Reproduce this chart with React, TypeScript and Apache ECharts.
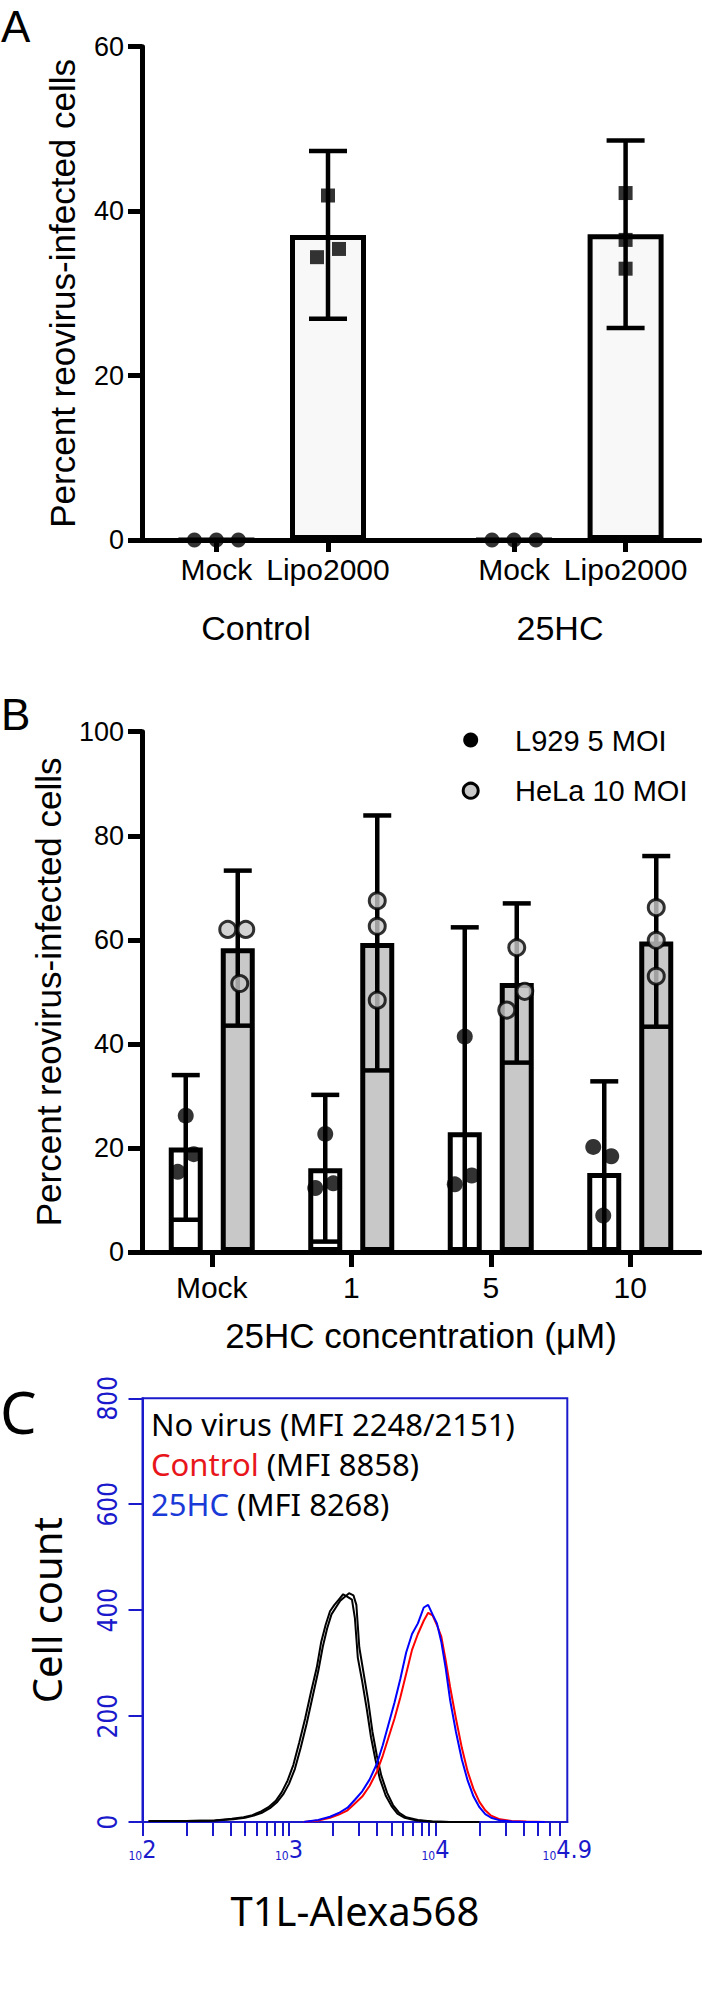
import React, { useEffect, useRef } from 'react';
import * as echarts from 'echarts';

// ---------------- Panel A data ----------------
const aCategories = ['Mock', 'Lipo2000', 'Mock', 'Lipo2000'];
const aSlots = [2, 5, 10, 13];
const aGroupLabels = ['Control', '25HC'];
const aMeans = [0, 37.1, 0, 37.2];
const aErrors = [0, 10.2, 0, 11.4];
const aPoints = [
  [0, 0, 0],
  [41.9, 34.4, 35.4],
  [0, 0, 0],
  [42.2, 36.5, 33.0],
];
const aYTicks = [0, 20, 40, 60];

// ---------------- Panel B data ----------------
const bCategories = ['Mock', '1', '5', '10'];
const bSeriesNames = ['L929 5 MOI', 'HeLa 10 MOI'];
const bL929Means = [20.1, 16.1, 23.0, 15.2];
const bL929Errors = [13.9, 14.1, 39.4, 17.6];
const bHelaMeans = [58.4, 59.4, 51.7, 59.7];
const bHelaErrors = [14.9, 24.5, 15.3, 16.4];
const bL929Points = [
  [26.2, 18.8, 15.4],
  [22.7, 12.3, 13.2],
  [41.4, 13.0, 14.7],
  [20.2, 18.4, 7.0],
];
const bHelaPoints = [
  [62.0, 62.0, 51.6],
  [67.5, 62.6, 48.4],
  [58.5, 46.5, 50.1],
  [66.2, 59.9, 53.0],
];
const bYTicks = [0, 20, 40, 60, 80, 100];

// ---------------- Panel C data ----------------
const cLegendLines = ['No virus (MFI 2248/2151)', 'Control (MFI 8858)', '25HC (MFI 8268)'];
const cXLabelExps = [2, 3, 4, 4.9];
const cXLabels = ['2', '3', '4', '4.9'];
const cXMinorTicks = [
  100, 200, 300, 400, 500, 600, 700, 800, 900,
  1000, 2000, 3000, 4000, 5000, 6000, 7000, 8000, 9000,
  10000, 20000, 30000, 40000, 50000, 60000, 70000, 79433,
];
const cYTicks = [0, 200, 400, 600, 800];

// log10 of fluorescence, cell counts
const noVirus1Exp = [2.05, 2.3, 2.5, 2.62, 2.7, 2.76, 2.82, 2.87, 2.92, 2.96, 3.0, 3.04, 3.08, 3.12, 3.16, 3.2, 3.23, 3.26, 3.29, 3.32, 3.35, 3.38, 3.41, 3.44, 3.46, 3.48, 3.51, 3.54, 3.57, 3.6, 3.63, 3.67, 3.71, 3.75, 3.8, 3.88, 3.98, 4.1, 4.3];
const noVirus1Count = [2, 2, 3, 5, 8, 12, 18, 26, 38, 52, 72, 100, 140, 185, 235, 285, 330, 365, 392, 405, 418, 425, 432, 428, 410, 330, 280, 230, 170, 125, 88, 55, 32, 18, 9, 4, 1, 0, 0];
const noVirus2Exp = [2.04, 2.29, 2.49, 2.61, 2.69, 2.75, 2.81, 2.86, 2.91, 2.95, 2.99, 3.03, 3.07, 3.11, 3.15, 3.19, 3.22, 3.25, 3.28, 3.31, 3.34, 3.37, 3.4, 3.43, 3.45, 3.47, 3.5, 3.53, 3.56, 3.59, 3.62, 3.66, 3.7, 3.74, 3.79, 3.87, 3.97, 4.09, 4.29];
const noVirus2Count = [2, 2, 3, 6, 9, 13, 20, 28, 40, 56, 78, 108, 150, 195, 245, 292, 340, 372, 398, 410, 420, 430, 425, 420, 385, 310, 265, 215, 160, 118, 82, 50, 30, 16, 8, 3, 1, 0, 0];
const controlExp = [3.1, 3.2, 3.28, 3.34, 3.4, 3.45, 3.5, 3.55, 3.6, 3.64, 3.68, 3.72, 3.76, 3.8, 3.84, 3.88, 3.92, 3.95, 3.98, 4.01, 4.04, 4.07, 4.1, 4.14, 4.18, 4.22, 4.26, 4.3, 4.34, 4.38, 4.44, 4.52, 4.62, 4.75];
const controlCount = [0, 3, 8, 14, 22, 35, 48, 68, 95, 125, 160, 195, 235, 280, 325, 355, 380, 395, 390, 372, 350, 305, 255, 195, 140, 95, 62, 38, 22, 12, 5, 2, 1, 0];
const hc25Exp = [3.1, 3.2, 3.28, 3.34, 3.4, 3.45, 3.5, 3.55, 3.6, 3.64, 3.68, 3.72, 3.76, 3.8, 3.84, 3.88, 3.92, 3.95, 3.98, 4.01, 4.04, 4.07, 4.1, 4.14, 4.18, 4.22, 4.26, 4.3, 4.34, 4.38, 4.44, 4.52, 4.62, 4.75];
const hc25Count = [0, 4, 10, 17, 27, 42, 58, 80, 110, 145, 185, 225, 270, 320, 355, 375, 405, 410, 392, 375, 340, 290, 230, 170, 118, 78, 48, 28, 15, 8, 3, 1, 0, 0];

// ---------------- styling constants ----------------
const FONT = '"Liberation Sans", Arial, sans-serif';
const FONT_C = '"Noto Sans", "Open Sans", sans-serif';
const FONT_NARROW = '"Liberation Sans Narrow", "DejaVu Sans Condensed", sans-serif';
const BLUE = '#1a1acc';
const RED_TXT = '#e8151b';
const BLUE_TXT = '#1a3ad8';
const GREY = '#c8c8c8';

const aJitter = [[-22, 0, 22], [0, -11, 11], [-22, 0, 22], [0, 0, 0]];
const bL929Jitter = [[0, 8, -8], [0, -10, 8], [0, -10, 7], [-11, 7, -1]];
const bHelaJitter = [[-10, 8, 2], [0, 0, 0], [0, -10, 8], [0, 0, 0]];
const B_BAR_W = 34;
const B_BAR_GAP = 18;
const B_OFF = (B_BAR_W + B_BAR_GAP) / 2;

function errorBar(dx: number, half: number, lw: number) {
  return (params: any, api: any) => {
    const x = api.value(0);
    const m = api.value(1);
    const e = api.value(2);
    const hi = api.coord([x, m + e]);
    const lo = api.coord([x, m - e]);
    const cx = hi[0] + dx;
    const style = { stroke: '#000', lineWidth: lw, fill: 'none' };
    return {
      type: 'group',
      children: [
        { type: 'line', shape: { x1: cx, y1: hi[1], x2: cx, y2: lo[1] }, style },
        { type: 'line', shape: { x1: cx - half, y1: hi[1], x2: cx + half, y2: hi[1] }, style },
        { type: 'line', shape: { x1: cx - half, y1: lo[1], x2: cx + half, y2: lo[1] }, style },
      ],
    };
  };
}

function buildOption(): any {
  const aMockIdx = aCategories.map((c, i) => i).filter((i) => aCategories[i] === 'Mock');
  const aLipoIdx = aCategories.map((c, i) => i).filter((i) => aCategories[i] !== 'Mock');
  const aPts = (idxs: number[]) =>
    idxs.flatMap((i) =>
      aPoints[i].map((v, k) => ({ value: [aSlots[i], v], symbolOffset: [aJitter[i][k], 0] }))
    );
  const bPts = (pts: number[][], jit: number[][], off: number) =>
    pts.flatMap((arr, i) => arr.map((v, k) => ({ value: [i, v], symbolOffset: [off + jit[i][k], 0] })));

  const hist = (ex: number[], ct: number[]) => ex.map((e, i) => [Math.pow(10, e), ct[i]]);

  const axisBlack = { color: '#000', width: 5 };

  return {
    animation: false,
    backgroundColor: '#fff',
    textStyle: { fontFamily: FONT },
    grid: [
      { left: 142, top: 46.7, width: 558, height: 493.3 },
      { left: 142, top: 731.7, width: 558, height: 520.3 },
      {
        left: 142.5, top: 1398.3, width: 424.8, height: 423.7,
        show: true, borderColor: BLUE, borderWidth: 2, backgroundColor: 'transparent',
      },
    ],
    xAxis: [
      {
        type: 'value', gridIndex: 0, min: 0, max: 15,
        axisLine: { show: true, onZero: false, lineStyle: axisBlack },
        axisTick: { show: true, customValues: aSlots, length: 12, lineStyle: axisBlack },
        axisLabel: {
          show: true, customValues: aSlots,
          formatter: (v: number) => aCategories[aSlots.indexOf(v)] ?? '',
          fontSize: 30, color: '#000', margin: 14, fontFamily: FONT,
        },
        splitLine: { show: false },
      },
      {
        type: 'category', gridIndex: 1, data: bCategories,
        axisLine: { show: true, onZero: false, lineStyle: axisBlack },
        axisTick: { show: true, alignWithLabel: true, length: 15, lineStyle: axisBlack },
        axisLabel: { fontSize: 30, color: '#000', margin: 20, fontFamily: FONT },
        name: '25HC concentration (μM)', nameLocation: 'middle', nameGap: 66,
        nameTextStyle: { fontSize: 35, color: '#000', fontFamily: FONT },
      },
      {
        type: 'log', gridIndex: 2, logBase: 10, min: 100, max: Math.pow(10, 4.9),
        axisLine: { show: true, onZero: false, lineStyle: { color: BLUE, width: 2 } },
        axisTick: { show: true, customValues: cXMinorTicks, length: 14, lineStyle: { color: BLUE, width: 2 } },
        axisLabel: {
          show: true,
          customValues: cXLabelExps.map((e) => Math.pow(10, e)),
          formatter: (v: number) => {
            const ex = Math.round(Math.log10(v) * 10) / 10;
            const idx = cXLabelExps.indexOf(ex);
            return `{s|10}{e|${idx >= 0 ? cXLabels[idx] : ex}}`;
          },
          margin: 16,
          rich: {
            s: { fontSize: 12, fontFamily: FONT_NARROW, color: BLUE, verticalAlign: 'bottom', lineHeight: 24 },
            e: { fontSize: 25, fontFamily: FONT_NARROW, color: BLUE, verticalAlign: 'bottom', lineHeight: 24 },
          },
        },
        splitLine: { show: false },
        minorSplitLine: { show: false },
        name: 'T1L-Alexa568', nameLocation: 'middle', nameGap: 68,
        nameTextStyle: { fontSize: 40, color: '#000', fontFamily: FONT_C },
      },
    ],
    yAxis: [
      {
        type: 'value', gridIndex: 0, min: aYTicks[0], max: aYTicks[aYTicks.length - 1], interval: 20,
        axisLine: { show: true, lineStyle: axisBlack },
        axisTick: { show: true, length: 14, lineStyle: axisBlack },
        axisLabel: { fontSize: 27, color: '#000', margin: 18, fontFamily: FONT },
        splitLine: { show: false },
        name: 'Percent reovirus-infected cells', nameLocation: 'middle', nameGap: 62,
        nameTextStyle: { fontSize: 35, color: '#000', fontFamily: FONT },
      },
      {
        type: 'value', gridIndex: 1, min: bYTicks[0], max: bYTicks[bYTicks.length - 1], interval: 20,
        axisLine: { show: true, lineStyle: axisBlack },
        axisTick: { show: true, length: 14, lineStyle: axisBlack },
        axisLabel: { fontSize: 27, color: '#000', margin: 18, fontFamily: FONT },
        splitLine: { show: false },
        name: 'Percent reovirus-infected cells', nameLocation: 'middle', nameGap: 76,
        nameTextStyle: { fontSize: 35, color: '#000', fontFamily: FONT },
      },
      {
        type: 'value', gridIndex: 2, min: cYTicks[0], max: cYTicks[cYTicks.length - 1], interval: 200,
        axisLine: { show: true, lineStyle: { color: BLUE, width: 2 } },
        axisTick: { show: true, length: 14, lineStyle: { color: BLUE, width: 2 } },
        axisLabel: { fontSize: 26, color: BLUE, margin: 22, rotate: 90, fontFamily: FONT_NARROW },
        splitLine: { show: false },
        name: 'Cell count', nameLocation: 'middle', nameGap: 76,
        nameTextStyle: { fontSize: 40, color: '#000', fontFamily: FONT_C },
      },
    ],
    graphic: [
      { type: 'text', x: 1, y: 26, style: { text: 'A', fontSize: 44, fontFamily: FONT, fill: '#000', verticalAlign: 'middle' } },
      { type: 'text', x: 1, y: 714, style: { text: 'B', fontSize: 44, fontFamily: FONT, fill: '#000', verticalAlign: 'middle' } },
      { type: 'text', x: 0, y: 1411, style: { text: 'C', fontSize: 58, fontFamily: FONT_C, fill: '#000', verticalAlign: 'middle' } },
      { type: 'text', x: 256, y: 628, style: { text: aGroupLabels[0], fontSize: 34, fontFamily: FONT, fill: '#000', align: 'center', verticalAlign: 'middle' } },
      { type: 'text', x: 560, y: 628, style: { text: aGroupLabels[1], fontSize: 34, fontFamily: FONT, fill: '#000', align: 'center', verticalAlign: 'middle' } },
      // Panel B legend
      { type: 'circle', shape: { cx: 470.7, cy: 740, r: 7.5 }, style: { fill: '#000' } },
      { type: 'text', x: 515, y: 741, style: { text: bSeriesNames[0], fontSize: 29, fontFamily: FONT, fill: '#000', verticalAlign: 'middle' } },
      { type: 'circle', shape: { cx: 470.7, cy: 790.7, r: 7.5 }, style: { fill: GREY, stroke: '#000', lineWidth: 3 } },
      { type: 'text', x: 515, y: 791, style: { text: bSeriesNames[1], fontSize: 29, fontFamily: FONT, fill: '#000', verticalAlign: 'middle' } },
      // Panel C legend
      {
        type: 'text', x: 151, y: 1424,
        style: { text: cLegendLines[0], fontSize: 31, fontFamily: FONT_C, fill: '#000', verticalAlign: 'middle' },
      },
      {
        type: 'text', x: 151, y: 1464,
        style: {
          text: `{r|${cLegendLines[1].split(' ')[0]}} ${cLegendLines[1].split(' ').slice(1).join(' ')}`,
          fontSize: 31, fontFamily: FONT_C, fill: '#000', verticalAlign: 'middle',
          rich: { r: { fill: RED_TXT, fontSize: 31, fontFamily: FONT_C } },
        },
      },
      {
        type: 'text', x: 151, y: 1504,
        style: {
          text: `{b|${cLegendLines[2].split(' ')[0]}} ${cLegendLines[2].split(' ').slice(1).join(' ')}`,
          fontSize: 31, fontFamily: FONT_C, fill: '#000', verticalAlign: 'middle',
          rich: { b: { fill: BLUE_TXT, fontSize: 31, fontFamily: FONT_C } },
        },
      },
    ],
    series: [
      // ----- Panel A
      {
        type: 'bar', name: 'A mean', xAxisIndex: 0, yAxisIndex: 0,
        data: aSlots.map((s, i) => [s, aMeans[i]]),
        barWidth: 76, z: 2,
        itemStyle: { color: '#f8f8f8', borderColor: '#000', borderWidth: 5 },
      },
      {
        type: 'custom', name: 'A error', xAxisIndex: 0, yAxisIndex: 0, z: 3,
        data: aSlots.map((s, i) => [s, aMeans[i], aErrors[i]]).filter((d) => d[2] > 0),
        renderItem: errorBar(0, 19, 4.5),
      },
      {
        type: 'scatter', name: 'A mock', xAxisIndex: 0, yAxisIndex: 0, z: 4,
        symbol: 'circle', symbolSize: 15, itemStyle: { color: '#000' },
        data: aPts(aMockIdx),
      },
      {
        type: 'scatter', name: 'A lipo', xAxisIndex: 0, yAxisIndex: 0, z: 4,
        symbol: 'rect', symbolSize: 14, itemStyle: { color: '#000' },
        data: aPts(aLipoIdx),
      },
      // ----- Panel B
      {
        type: 'bar', name: 'L929 mean', xAxisIndex: 1, yAxisIndex: 1, z: 2,
        data: bL929Means, barWidth: B_BAR_W, barGap: `${(B_BAR_GAP / B_BAR_W) * 100}%`,
        itemStyle: { color: '#fff', borderColor: '#000', borderWidth: 5 },
      },
      {
        type: 'bar', name: 'HeLa mean', xAxisIndex: 1, yAxisIndex: 1, z: 2,
        data: bHelaMeans, barWidth: B_BAR_W, barGap: `${(B_BAR_GAP / B_BAR_W) * 100}%`,
        itemStyle: { color: GREY, borderColor: '#000', borderWidth: 5 },
      },
      {
        type: 'custom', name: 'L929 error', xAxisIndex: 1, yAxisIndex: 1, z: 3, clip: true,
        data: bL929Means.map((m, i) => [i, m, bL929Errors[i]]),
        renderItem: errorBar(-B_OFF, 14, 4.5),
      },
      {
        type: 'custom', name: 'HeLa error', xAxisIndex: 1, yAxisIndex: 1, z: 3, clip: true,
        data: bHelaMeans.map((m, i) => [i, m, bHelaErrors[i]]),
        renderItem: errorBar(B_OFF, 14, 4.5),
      },
      {
        type: 'scatter', name: bSeriesNames[0], xAxisIndex: 1, yAxisIndex: 1, z: 4,
        symbol: 'circle', symbolSize: 16, itemStyle: { color: '#000' },
        data: bPts(bL929Points, bL929Jitter, -B_OFF),
      },
      {
        type: 'scatter', name: bSeriesNames[1], xAxisIndex: 1, yAxisIndex: 1, z: 4,
        symbol: 'circle', symbolSize: 16, itemStyle: { color: GREY, borderColor: '#000', borderWidth: 3 },
        data: bPts(bHelaPoints, bHelaJitter, B_OFF),
      },
      // ----- Panel C
      {
        type: 'line', name: 'No virus 1', xAxisIndex: 2, yAxisIndex: 2, showSymbol: false, z: 3,
        lineStyle: { color: '#000', width: 2 }, data: hist(noVirus1Exp, noVirus1Count),
      },
      {
        type: 'line', name: 'No virus 2', xAxisIndex: 2, yAxisIndex: 2, showSymbol: false, z: 3,
        lineStyle: { color: '#000', width: 2 }, data: hist(noVirus2Exp, noVirus2Count),
      },
      {
        type: 'line', name: 'Control', xAxisIndex: 2, yAxisIndex: 2, showSymbol: false, z: 3,
        lineStyle: { color: '#ff0000', width: 2 }, data: hist(controlExp, controlCount),
      },
      {
        type: 'line', name: '25HC', xAxisIndex: 2, yAxisIndex: 2, showSymbol: false, z: 4,
        lineStyle: { color: '#0000ff', width: 2 }, data: hist(hc25Exp, hc25Count),
      },
    ],
  };
}

export default function App() {
  const ref = useRef<HTMLDivElement>(null);
  useEffect(() => {
    if (!ref.current) return;
    const chart = echarts.init(ref.current, null, { renderer: 'svg' });
    chart.setOption(buildOption());
    return () => chart.dispose();
  }, []);
  return (
    <div
      ref={ref}
      style={{ position: 'absolute', left: 0, top: 0, width: 702, height: 1998, background: '#fff' }}
    />
  );
}
